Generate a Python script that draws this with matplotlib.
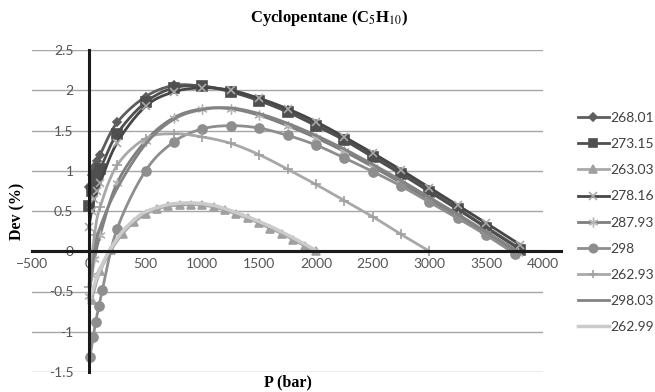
import numpy as np
import matplotlib
matplotlib.use("Agg")
import matplotlib.pyplot as plt
from matplotlib.lines import Line2D

# ---------------- data ----------------
p_268_01 = [0, 25, 50, 75, 100, 250, 500, 750, 1000, 1250, 1500, 1750, 2000, 2250, 2500, 2750, 3000, 3250, 3500, 3800]
d_268_01 = [0.80, 0.95, 1.05, 1.12, 1.20, 1.60, 1.92, 2.06, 2.05, 1.99, 1.88, 1.75, 1.58, 1.39, 1.19, 0.98, 0.76, 0.53, 0.30, 0.03]

p_273_15 = [0, 25, 50, 75, 100, 250, 500, 750, 1000, 1250, 1500, 1750, 2000, 2250, 2500, 2750, 3000, 3250, 3500, 3800]
d_273_15 = [0.56, 0.75, 0.85, 0.95, 1.02, 1.46, 1.85, 2.03, 2.05, 1.98, 1.87, 1.73, 1.56, 1.38, 1.17, 0.96, 0.74, 0.52, 0.29, 0.02]

p_263_03 = [25, 100, 200, 300, 400, 500, 600, 700, 800, 900, 1000, 1100, 1200, 1300, 1400, 1500, 1600, 1700, 1800, 1900, 2000]
d_263_03 = [-0.60, -0.25, 0.02, 0.22, 0.36, 0.46, 0.52, 0.56, 0.57, 0.58, 0.57, 0.55, 0.51, 0.46, 0.41, 0.35, 0.28, 0.22, 0.14, 0.07, 0.00]

p_278_16 = [0, 25, 50, 75, 100, 250, 500, 750, 1000, 1250, 1500, 1750, 2000, 2250, 2500, 2750, 3000, 3250, 3500, 3800]
d_278_16 = [0.30, 0.50, 0.65, 0.75, 0.85, 1.35, 1.80, 1.98, 2.03, 2.00, 1.90, 1.77, 1.61, 1.42, 1.22, 1.01, 0.79, 0.57, 0.35, 0.08]

p_287_93 = [0, 25, 50, 100, 250, 500, 750, 1000, 1250, 1500, 1750, 2000, 2250, 2500, 2750, 3000, 3250, 3500, 3780]
d_287_93 = [-0.55, -0.30, -0.10, 0.20, 0.85, 1.37, 1.66, 1.77, 1.77, 1.69, 1.56, 1.41, 1.24, 1.05, 0.85, 0.64, 0.44, 0.22, -0.02]

p_298 = [10, 40, 60, 90, 120, 250, 500, 750, 1000, 1250, 1500, 1750, 2000, 2250, 2500, 2750, 3000, 3250, 3500, 3750]
d_298 = [-1.31, -1.06, -0.88, -0.68, -0.48, 0.28, 1.00, 1.36, 1.52, 1.56, 1.53, 1.44, 1.32, 1.16, 0.99, 0.81, 0.61, 0.41, 0.20, -0.03]

p_262_93 = [0, 50, 100, 250, 500, 750, 1000, 1250, 1500, 1750, 2000, 2250, 2500, 2750, 3000]
d_262_93 = [-0.45, 0.20, 0.55, 1.07, 1.40, 1.46, 1.42, 1.34, 1.20, 1.02, 0.83, 0.63, 0.43, 0.21, 0.00]

p_298_03 = [0, 50, 100, 250, 500, 750, 1000, 1250, 1500, 1750, 2000, 2250, 2500, 2750, 3000, 3250, 3500, 3800]
d_298_03 = [-0.60, 0.00, 0.30, 0.78, 1.33, 1.64, 1.76, 1.78, 1.71, 1.59, 1.44, 1.27, 1.08, 0.88, 0.67, 0.46, 0.24, -0.02]

p_262_99 = [0, 100, 200, 300, 400, 500, 700, 900, 1100, 1300, 1500, 1700, 1900, 2000]
d_262_99 = [-0.62, -0.22, 0.05, 0.25, 0.39, 0.49, 0.58, 0.60, 0.57, 0.48, 0.37, 0.24, 0.09, 0.01]

x_ticks = [-500, 0, 500, 1000, 1500, 2000, 2500, 3000, 3500, 4000]
y_ticks = [-1.5, -1, -0.5, 0, 0.5, 1, 1.5, 2, 2.5]
y_tick_labels = ["-1.5", "-1", "-0.5", "0", "0.5", "1", "1.5", "2", "2.5"]

# ---------------- helpers ----------------
def smooth(x, y, n=20):
    """Catmull-Rom style smoothing like Excel's smoothed lines (for drawing only)."""
    x = np.asarray(x, float); y = np.asarray(y, float)
    if len(x) < 3:
        return x, y
    P = np.column_stack([x, y])
    P = np.vstack([P[0] * 2 - P[1], P, P[-1] * 2 - P[-2]])
    out = []
    for i in range(1, len(P) - 2):
        p0, p1, p2, p3 = P[i - 1], P[i], P[i + 1], P[i + 2]
        t = np.linspace(0, 1, n, endpoint=False)[:, None]
        seg = 0.5 * ((2 * p1) + (-p0 + p2) * t + (2 * p0 - 5 * p1 + 4 * p2 - p3) * t ** 2
                     + (-p0 + 3 * p1 - 3 * p2 + p3) * t ** 3)
        out.append(seg)
    out.append(P[-2][None, :])
    S = np.vstack(out)
    return S[:, 0], S[:, 1]

fig = plt.figure(figsize=(6.55, 3.92), dpi=100)
ax = fig.add_axes([32 / 655, 20 / 392, 511 / 655, 322 / 392])

series = [
    # label, x, y, line color, marker, marker face, marker edge, msize, lw
    ("268.01", p_268_01, d_268_01, "#5e5e5e", "D", "#5e5e5e", "#5e5e5e", 4, 2.0),
    ("273.15", p_273_15, d_273_15, "#4f4f4f", "s", "#4f4f4f", "#4f4f4f", 6.5, 2.0),
    ("263.03", p_263_03, d_263_03, "#a9a9a9", "^", "#a0a0a0", "#a0a0a0", 6, 2.0),
    ("278.16", p_278_16, d_278_16, "#464646", "x", "none", "#a8a8a8", 6, 2.0),
    ("287.93", p_287_93, d_287_93, "#7f7f7f", "*", "#b5b5b5", "#b5b5b5", 0, 2.0),
    ("298", p_298, d_298, "#8e8e8e", "o", "#8e8e8e", "#8e8e8e", 6.5, 2.0),
    ("262.93", p_262_93, d_262_93, "#a8a8a8", "+", "none", "#a0a0a0", 7, 2.0),
    ("298.03", p_298_03, d_298_03, "#838383", None, None, None, 0, 2.0),
    ("262.99", p_262_99, d_262_99, "#cbcbcb", None, None, None, 0, 2.5),
]

handles = []
for i, (lab, xs, ys, lc, mk, mf, me, ms, lw) in enumerate(series):
    sx, sy = smooth(xs, ys)
    ax.plot(sx, sy, color=lc, lw=lw, zorder=3 + i * 0.1, solid_capstyle="round")
    if mk == "*":
        ax.scatter(xs, ys, marker=(6, 2, 0), s=45, color=mf, linewidths=1.0, zorder=3.05 + i * 0.1)
    elif mk is not None:
        ax.plot(xs, ys, ls="none", marker=mk, ms=ms, mfc=mf, mec=me, mew=1.2, zorder=3.05 + i * 0.1)
    if mk == "*":
        h = Line2D([], [], color=lc, lw=2, marker=(6, 2, 0), ms=7, mec=mf, mfc=mf, mew=1.0)
    elif mk is None:
        h = Line2D([], [], color=lc, lw=lw)
    else:
        h = Line2D([], [], color=lc, lw=2, marker=mk, ms=min(ms, 6), mfc=mf, mec=me, mew=1.2)
    handles.append((h, lab))

ax.set_xlim(-500, 4000)
ax.set_ylim(-1.5, 2.5)
ax.set_xticks(x_ticks)
ax.set_yticks(y_ticks)
ax.set_yticklabels(y_tick_labels)
ax.yaxis.grid(True, color="#a6a6a6", lw=1.0, zorder=0)
ax.set_axisbelow(True)

for s in ["top", "right"]:
    ax.spines[s].set_visible(False)
ax.spines["left"].set_position(("data", 0))
ax.spines["bottom"].set_position(("data", 0))
ax.spines["left"].set_linewidth(2.2)
ax.spines["bottom"].set_linewidth(2.2)
ax.spines["left"].set_color("#1a1a1a")
ax.spines["bottom"].set_color("#1a1a1a")
ax.spines["left"].set_zorder(6)
ax.spines["bottom"].set_zorder(6)
ax.axhline(0, xmin=0, xmax=1.035, color="#1a1a1a", lw=2.2, clip_on=False, zorder=6)

ax.tick_params(axis="both", length=0, labelcolor="#555555")
ax.tick_params(axis="y", pad=11)
ax.tick_params(axis="x", pad=5)
for lbl in ax.get_xticklabels() + ax.get_yticklabels():
    lbl.set_fontfamily("Lato")
    lbl.set_fontsize(10)

fig.text(329 / 655, 1 - 18 / 392, r"Cyclopentane (C$_5$H$_{10}$)", ha="center", va="center",
         fontsize=12, fontweight="bold", family="Liberation Serif", math_fontfamily="stix")
fig.text(288 / 655, 1 - 382 / 392, "P (bar)", ha="center", va="center",
         fontsize=11.5, fontweight="bold", family="Liberation Serif")
fig.text(17 / 655, 1 - 211 / 392, "Dev (%)", ha="center", va="center", rotation=90,
         fontsize=11.5, fontweight="bold", family="Liberation Serif")

leg = fig.legend([h for h, _ in handles], [l for _, l in handles], loc="upper left",
                 bbox_to_anchor=(578 / 655, 1 - 112 / 392), frameon=False,
                 prop=dict(family="Lato", size=10), labelspacing=1.02,
                 handlelength=2.2, handletextpad=0.1, borderaxespad=0, borderpad=0)
for t in leg.get_texts():
    t.set_color("#404040")

fig.savefig("out.png", dpi=100)
